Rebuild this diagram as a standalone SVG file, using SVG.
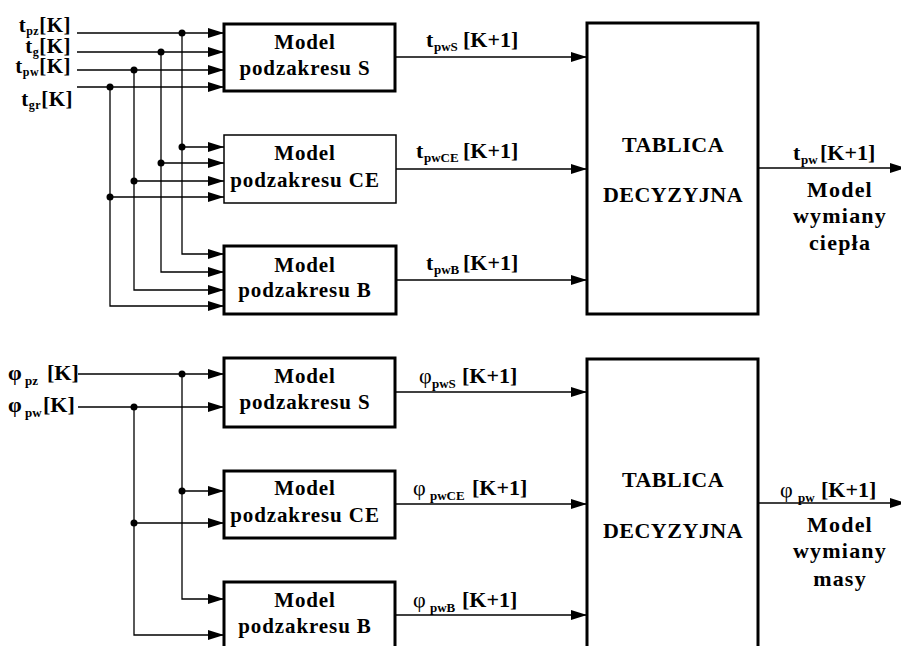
<svg xmlns="http://www.w3.org/2000/svg" width="901" height="646" viewBox="0 0 901 646" font-family="'Liberation Serif', 'Times New Roman', serif" font-weight="bold">
<defs>
<marker id="arr" markerUnits="userSpaceOnUse" markerWidth="16" markerHeight="10" refX="16" refY="5" orient="auto">
<path d="M0,0 L16,5 L0,10 z" fill="#000"/>
</marker>
<style>
text{font-family:'Liberation Serif','Times New Roman',serif;font-weight:bold;fill:#000}
.box{fill:#fff;stroke:#000;stroke-width:3}
.thin{stroke-width:1.5}
.bt{font-size:21px;letter-spacing:0.9px;text-anchor:middle}
.tt{font-size:22px;letter-spacing:0.5px;text-anchor:middle}
.rt{font-size:22px;letter-spacing:1.2px;text-anchor:middle}
.lb{font-size:22px}
.il{font-size:21px;letter-spacing:0.5px;text-anchor:end}
.sub{font-size:13px}
.isub{font-size:12px}
.reg{font-weight:normal}
.ln{fill:none;stroke:#000;stroke-width:1.3}
.ar{marker-end:url(#arr)}
.dot{fill:#000}
</style>
</defs>
<rect width="901" height="646" fill="#fff"/>

<g id="connectors">
<path class="ln ar" d="M77,33 H224"/>
<path class="ln ar" d="M77,52 H224"/>
<path class="ln ar" d="M77,70 H224"/>
<path class="ln ar" d="M77,87 H224"/>
<path class="ln ar" d="M182,33 V254 H224"/>
<path class="ln ar" d="M161,52 V272 H224"/>
<path class="ln ar" d="M134,70 V290 H224"/>
<path class="ln ar" d="M110,87 V306 H224"/>
<path class="ln ar" d="M182,147 H224"/>
<path class="ln ar" d="M161,163 H224"/>
<path class="ln ar" d="M134,181 H224"/>
<path class="ln ar" d="M110,197 H224"/>
<circle class="dot" cx="182" cy="33" r="3.5"/>
<circle class="dot" cx="161" cy="52" r="3.5"/>
<circle class="dot" cx="134" cy="70" r="3.5"/>
<circle class="dot" cx="110" cy="87" r="3.5"/>
<circle class="dot" cx="182" cy="147" r="3.5"/>
<circle class="dot" cx="161" cy="163" r="3.5"/>
<circle class="dot" cx="134" cy="181" r="3.5"/>
<circle class="dot" cx="110" cy="197" r="3.5"/>
<path class="ln ar" d="M396,57 H587"/>
<path class="ln ar" d="M396,169 H587"/>
<path class="ln ar" d="M396,280 H587"/>
<path class="ln ar" d="M758,168 H906"/>
<path class="ln ar" d="M78,374 H224"/>
<path class="ln ar" d="M78,407 H224"/>
<path class="ln ar" d="M182,374 V599 H224"/>
<path class="ln ar" d="M134,407 V635 H224"/>
<path class="ln ar" d="M182,491 H224"/>
<path class="ln ar" d="M134,523 H224"/>
<circle class="dot" cx="182" cy="374" r="3.5"/>
<circle class="dot" cx="134" cy="407" r="3.5"/>
<circle class="dot" cx="182" cy="491" r="3.5"/>
<circle class="dot" cx="134" cy="523" r="3.5"/>
<path class="ln ar" d="M396,392 H587"/>
<path class="ln ar" d="M396,504 H587"/>
<path class="ln ar" d="M396,615 H587"/>
<path class="ln ar" d="M758,503 H906"/>

<text class="il" x="71" y="32">t<tspan class="isub" dy="3">pz</tspan><tspan dy="-3">[K]</tspan></text>
<text class="il" x="71" y="53">t<tspan class="isub" dy="3">g</tspan><tspan dy="-3">[K]</tspan></text>
<text class="il" x="71" y="73">t<tspan class="isub" dy="3">pw</tspan><tspan dy="-3">[K]</tspan></text>
<text class="il" x="73" y="106">t<tspan class="isub" dy="3">gr</tspan><tspan dy="-3">[K]</tspan></text>

<text class="lb" x="426" y="47">t<tspan class="sub" x="434" dy="4">pwS</tspan><tspan x="463" dy="-4">[K+1]</tspan></text>
<text class="lb" x="416" y="158">t<tspan class="sub" x="424" dy="4">pwCE</tspan><tspan x="463" dy="-4">[K+1]</tspan></text>
<text class="lb" x="426" y="270">t<tspan class="sub" x="434" dy="4">pwB</tspan><tspan x="463" dy="-4">[K+1]</tspan></text>
<text class="lb" x="793" y="160">t<tspan class="sub" x="801" dy="4">pw</tspan><tspan x="820" dy="-4">[K+1]</tspan></text>

<text class="lb" x="8" y="380">φ<tspan class="sub" x="25" dy="5">pz</tspan><tspan x="47" dy="-5">[K]</tspan></text>
<text class="lb" x="8" y="412">φ<tspan class="sub" x="25" dy="5">pw</tspan><tspan x="43" dy="-5">[K]</tspan></text>

<text class="lb" x="419" y="383"><tspan class="reg">φ</tspan><tspan class="sub" x="432" dy="5">pwS</tspan><tspan x="462" dy="-5">[K+1]</tspan></text>
<text class="lb" x="413" y="495"><tspan class="reg">φ</tspan><tspan class="sub" x="430" dy="5">pwCE</tspan><tspan x="472" dy="-5">[K+1]</tspan></text>
<text class="lb" x="413" y="607"><tspan class="reg">φ</tspan><tspan class="sub" x="430" dy="5">pwB</tspan><tspan x="462" dy="-5">[K+1]</tspan></text>
<text class="lb" x="780" y="497"><tspan class="reg">φ</tspan><tspan class="sub" x="798" dy="5">pw</tspan><tspan x="821" dy="-5">[K+1]</tspan></text>
</g>

<g id="top-S">
<rect class="box" x="224" y="24" width="171" height="67"/>
<text class="bt" x="305" y="49">Model</text>
<text class="bt" x="305" y="75">podzakresu S</text>
</g>
<g id="top-CE">
<rect class="box thin" x="224" y="135" width="172" height="68"/>
<text class="bt" x="305" y="160">Model</text>
<text class="bt" x="305" y="187">podzakresu CE</text>
</g>
<g id="top-B">
<rect class="box" x="224" y="246" width="172" height="68"/>
<text class="bt" x="305" y="272">Model</text>
<text class="bt" x="305" y="297">podzakresu B</text>
</g>
<g id="top-table">
<rect class="box" x="587" y="23" width="171" height="291"/>
<text class="tt" x="673" y="152">TABLICA</text>
<text class="tt" x="673" y="202">DECYZYJNA</text>
</g>
<g id="top-out">
<text class="rt" x="840" y="197">Model</text>
<text class="rt" x="840" y="223">wymiany</text>
<text class="rt" x="840" y="250">ciepła</text>
</g>

<g id="bot-S">
<rect class="box" x="224" y="358" width="171" height="69"/>
<text class="bt" x="305" y="383">Model</text>
<text class="bt" x="305" y="409">podzakresu S</text>
</g>
<g id="bot-CE">
<rect class="box" x="224" y="471" width="171" height="67"/>
<text class="bt" x="305" y="495">Model</text>
<text class="bt" x="305" y="522">podzakresu CE</text>
</g>
<g id="bot-B">
<rect class="box" x="224" y="582" width="171" height="70"/>
<text class="bt" x="305" y="607">Model</text>
<text class="bt" x="305" y="633">podzakresu B</text>
</g>
<g id="bot-table">
<rect class="box" x="587" y="359" width="171" height="300"/>
<text class="tt" x="673" y="487">TABLICA</text>
<text class="tt" x="673" y="538">DECYZYJNA</text>
</g>
<g id="bot-out">
<text class="rt" x="840" y="532">Model</text>
<text class="rt" x="840" y="558">wymiany</text>
<text class="rt" x="840" y="586">masy</text>
</g>
</svg>
